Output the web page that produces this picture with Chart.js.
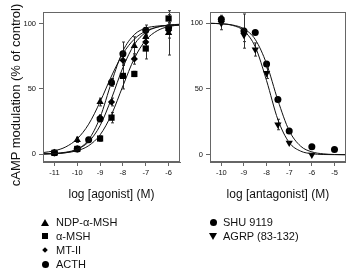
<!DOCTYPE html>
<html><head><meta charset="utf-8">
<script src="https://cdn.jsdelivr.net/npm/chart.js@4/dist/chart.umd.min.js"></script>
<style>
html,body{margin:0;padding:0;background:#fff;}
#wrap{position:relative;width:350px;height:275px;overflow:hidden;font-family:"Liberation Sans",Arial,sans-serif;color:#111;}
canvas{position:absolute;top:0;}
#c1{left:0;} #c2{left:175px;}
.ytitle{position:absolute;left:15px;top:95px;transform:translate(-50%,-50%) rotate(-90deg);font-size:13px;white-space:nowrap;}
.item{position:absolute;font-size:11px;line-height:14px;height:14px;white-space:nowrap;}
.mk{position:absolute;}
.tri{width:0;height:0;border-left:4px solid transparent;border-right:4px solid transparent;border-bottom:7px solid #000;}
.tridn{width:0;height:0;border-left:4px solid transparent;border-right:4px solid transparent;border-top:7px solid #000;}
.sq{width:6px;height:6px;background:#000;}
.dia{width:4px;height:4px;background:#000;transform:rotate(45deg);}
.cir{width:7px;height:7px;background:#000;border-radius:50%;}
</style>
</head><body>
<div id="wrap">
<canvas id="c1" width="185" height="205"></canvas>
<canvas id="c2" width="175" height="205"></canvas>
<div class="ytitle">cAMP modulation (% of control)</div>
<div id="legend"></div>
</div>
<script>
// ---------- data ----------
const xTicksLeft = [-11, -10, -9, -8, -7, -6];
const xTicksRight = [-10, -9, -8, -7, -6, -5];
const yTicks = [0, 50, 100];

// agonists (left panel)
const ndpX = [-11, -10, -9, -8.5, -7.5, -7, -6];
const ndpY = [1, 11, 40, 55, 83, 90, 93];
const ndpErr = [0, 2, 3, 3, 7, 5, 17];

const amshX = [-11, -10, -9, -8.5, -8, -7.5, -7, -6];
const amshY = [1, 4, 12, 28, 60, 61.5, 81, 104];
const amshErr = [0, 0, 2, 4, 10, 2, 8, 3];

const mt2X = [-11, -10, -9, -8.5, -8, -7.5, -7, -6];
const mt2Y = [1, 4, 28, 40, 72, 73, 86, 95];
const mt2Err = [0, 0, 2, 3, 3, 4, 6, 6];

const acthX = [-11, -10, -9.5, -9, -8.5, -8, -7, -6];
const acthY = [1, 4, 11, 27, 55, 77, 95, 97];
const acthErr = [0, 0, 0, 2, 2, 9, 4, 3];

// fitted curves (left panel)
const fitXLeft = [-11.5, -11, -10.5, -10, -9.5, -9, -8.5, -8, -7.5, -7, -6.5, -6, -5.5];
const ndpFit  = [1.2, 2.6, 5.6, 11.8, 23.0, 40.1, 59.9, 77.0, 88.2, 94.4, 97.4, 98.8, 99.5];
const acthFit = [0.1, 0.4, 1.2, 3.8, 11.1, 28.2, 55.2, 79.1, 91.7, 96.6, 98.2, 98.7, 98.9];
const mt2Fit  = [0.2, 0.6, 1.5, 3.8, 9.5, 21.9, 42.7, 66.5, 84.1, 93.4, 97.4, 99.0, 99.6];
const amshFit = [0.2, 0.4, 1.1, 2.7, 6.5, 14.8, 30.4, 52.3, 73.4, 87.4, 94.6, 97.8, 99.1];

// antagonists (right panel)
const shuX = [-10, -9, -8.5, -8, -7.5, -7, -6, -5];
const shuY = [103, 94, 93, 69, 42, 18, 6, 4];
const shuErr = [3, 13, 0, 0, 0, 0, 0, 0];

const agrpX = [-10, -9, -8.5, -8, -7.5, -7, -6];
const agrpY = [100, 91, 80, 62, 23, 9, 0];
const agrpErr = [5, 5, 5, 4, 4, 0, 0];

const fitXRight = [-10.5, -10, -9.5, -9, -8.5, -8, -7.5, -7, -6.5, -6, -5.5, -5, -4.5];
const shuFit  = [99.9, 99.6, 98.6, 95.7, 87.6, 69.1, 41.4, 18.3, 6.6, 2.2, 0.7, 0.2, 0.1];
const agrpFit = [99.9, 99.5, 98.3, 94.2, 82.0, 56.3, 26.7, 9.3, 2.8, 0.8, 0.2, 0.1, 0.0];

const legendLeft = ['NDP-\u03b1-MSH', '\u03b1-MSH', 'MT-II', 'ACTH'];
const legendRight = ['SHU 9119', 'AGRP (83-132)'];
const xTitleLeft = 'log [agonist] (M)';
const xTitleRight = 'log [antagonist] (M)';

// ---------- helpers ----------
const pts = (xs, ys) => xs.map((x, i) => ({x, y: ys[i]}));
const INK = '#111';
const AXIS = '#666';

function pointSet(xs, ys, errs, style, radius, rotation) {
  return {data: pts(xs, ys), err: errs, showLine: false, pointStyle: style,
    pointRadius: radius, pointRotation: rotation || 0,
    pointBackgroundColor: '#000', pointBorderColor: '#000', pointBorderWidth: 0};
}
function curveSet(xs, ys) {
  return {data: pts(xs, ys), showLine: true, pointRadius: 0, borderColor: INK,
    borderWidth: 1, cubicInterpolationMode: 'monotone', fill: false};
}

const errorBars = {
  id: 'errorBars',
  beforeDatasetsDraw(chart) {
    const {ctx, scales: {x, y}} = chart;
    ctx.save();
    ctx.strokeStyle = '#333';
    ctx.lineWidth = 1;
    chart.data.datasets.forEach(ds => {
      if (!ds.err) return;
      ds.data.forEach((p, j) => {
        const e = ds.err[j];
        if (!e) return;
        const px = Math.round(x.getPixelForValue(p.x)) + 0.5;
        const yt = y.getPixelForValue(p.y + e);
        const yb = y.getPixelForValue(p.y - e);
        ctx.beginPath();
        ctx.moveTo(px, yt); ctx.lineTo(px, yb);
        ctx.moveTo(px - 1.5, yt); ctx.lineTo(px + 1.5, yt);
        ctx.moveTo(px - 1.5, yb); ctx.lineTo(px + 1.5, yb);
        ctx.stroke();
      });
    });
    ctx.restore();
  }
};
const frame = {
  id: 'frame',
  afterDraw(chart) {
    const {ctx, chartArea: a} = chart;
    ctx.save();
    ctx.strokeStyle = AXIS;
    ctx.lineWidth = 1;
    ctx.strokeRect(Math.round(a.left) + 0.5, Math.round(a.top) + 0.5,
      Math.round(a.right - a.left) - 1, Math.round(a.bottom - a.top) - 1);
    ctx.restore();
  }
};

function makeChart(id, datasets, xMin, xMax, xTicks, yMin, yMax, yAxisWidth, padRight, xTitle) {
  return new Chart(document.getElementById(id), {
    type: 'scatter',
    data: {datasets},
    options: {
      responsive: false, animation: false,
      layout: {padding: {top: 12, right: padRight, left: 0, bottom: 0}},
      plugins: {legend: {display: false}, tooltip: {enabled: false}},
      scales: {
        x: {
          type: 'linear', min: xMin, max: xMax,
          afterBuildTicks: s => { s.ticks = xTicks.map(v => ({value: v})); },
          afterFit: s => { s.height = 43; },
          grid: {drawOnChartArea: false, drawTicks: true, tickLength: 4, color: AXIS},
          border: {display: true, color: AXIS},
          ticks: {font: {size: 7.5, family: 'Liberation Sans'}, color: '#111', padding: 2, maxRotation: 0},
          title: {display: true, text: xTitle, font: {size: 12, family: 'Liberation Sans'}, color: INK, padding: {top: 0, bottom: 3}}
        },
        y: {
          type: 'linear', min: yMin, max: yMax,
          afterBuildTicks: s => { s.ticks = yTicks.map(v => ({value: v})); },
          afterFit: s => { s.width = yAxisWidth; },
          grid: {drawOnChartArea: false, drawTicks: true, tickLength: 4, color: AXIS},
          border: {display: true, color: AXIS},
          ticks: {font: {size: 7.5, family: 'Liberation Sans'}, color: '#111', padding: 3}
        }
      }
    },
    plugins: [errorBars, frame]
  });
}

makeChart('c1', [
  curveSet(fitXLeft, ndpFit), curveSet(fitXLeft, acthFit),
  curveSet(fitXLeft, mt2Fit), curveSet(fitXLeft, amshFit),
  pointSet(ndpX, ndpY, ndpErr, 'triangle', 4.2),
  pointSet(amshX, amshY, amshErr, 'rect', 4.4),
  pointSet(mt2X, mt2Y, mt2Err, 'rectRot', 3.6),
  pointSet(acthX, acthY, acthErr, 'circle', 3.5)
], -11.5, -5.5, xTicksLeft, -6, 109, 43, 5, xTitleLeft);

makeChart('c2', [
  curveSet(fitXRight, shuFit), curveSet(fitXRight, agrpFit),
  pointSet(shuX, shuY, shuErr, 'circle', 3.5),
  pointSet(agrpX, agrpY, agrpErr, 'triangle', 4.2, 180)
], -10.5, -4.5, xTicksRight, -5.5, 108.5, 35, 3, xTitleRight);

// ---------- legend ----------
const legendEl = document.getElementById('legend');
const leftMarks = ['tri', 'sq', 'dia', 'cir'];
const rightMarks = ['cir', 'tridn'];
const rowY = [222, 236, 250, 264];
function addItem(label, cls, cx, tx, cy) {
  const m = document.createElement('div');
  m.className = 'mk ' + cls;
  legendEl.appendChild(m);
  const w = m.offsetWidth, h = m.offsetHeight;
  m.style.left = (cx - w / 2) + 'px';
  m.style.top = (cy - h / 2) + 'px';
  const t = document.createElement('div');
  t.className = 'item';
  t.textContent = label;
  t.style.left = tx + 'px';
  t.style.top = (cy - 7) + 'px';
  legendEl.appendChild(t);
}
legendLeft.forEach((l, i) => addItem(l, leftMarks[i], 45, 56, rowY[i]));
legendRight.forEach((l, i) => addItem(l, rightMarks[i], 213, 223, rowY[i]));
</script>
</body></html>
